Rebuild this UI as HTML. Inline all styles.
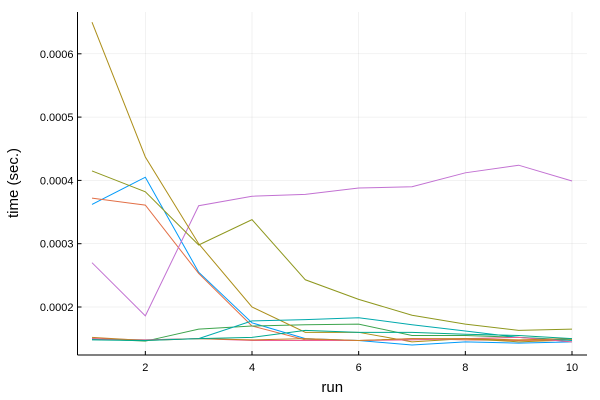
<!DOCTYPE html>
<html><head><meta charset="utf-8"><style>
body{margin:0;background:#fff;}
svg{display:block;font-family:"Liberation Sans","DejaVu Sans",sans-serif;}
</style></head><body>
<svg id="chart" width="600" height="400" viewBox="0 0 600 400"></svg>
<script>
const runs=[1,2,3,4,5,6,7,8,9,10];
const s1=[0.000362,0.000405,0.000255,0.000175,0.000150,0.000147,0.000140,0.000145,0.000143,0.000145];
const s2=[0.000372,0.000361,0.000253,0.000170,0.000148,0.000147,0.000150,0.000148,0.000147,0.000148];
const s3=[0.000150,0.000146,0.000165,0.000170,0.000172,0.000173,0.000155,0.000155,0.000152,0.000148];
const s4=[0.000270,0.000186,0.000360,0.000375,0.000378,0.000388,0.000390,0.000412,0.000424,0.000399];
const s5=[0.000650,0.000437,0.000300,0.000200,0.000160,0.000160,0.000145,0.000150,0.000145,0.000148];
const s6=[0.000149,0.000148,0.000150,0.000178,0.000180,0.000183,0.000172,0.000162,0.000152,0.000147];
const s7=[0.000150,0.000148,0.000150,0.000147,0.000147,0.000147,0.000148,0.000150,0.000152,0.000145];
const s8=[0.000152,0.000147,0.000150,0.000148,0.000150,0.000147,0.000150,0.000150,0.000148,0.000150];
const s9=[0.000148,0.000147,0.000150,0.000152,0.000163,0.000160,0.000160,0.000157,0.000155,0.000150];
const s10=[0.000415,0.000382,0.000298,0.000338,0.000243,0.000212,0.000187,0.000173,0.000163,0.000165];
const seriesList=[s1,s2,s3,s4,s5,s6,s7,s8,s9,s10];
const colors=["#009af9","#e26f46","#3da44d","#c271d2","#ac8e18","#00a9ad","#ed5e93","#c68225","#00a98d","#8e971d"];
const xTicks=[2,4,6,8,10];
const yTicks=[0.0002,0.0003,0.0004,0.0005,0.0006];
const yTickLabels=["0.0002","0.0003","0.0004","0.0005","0.0006"];

const NS="http://www.w3.org/2000/svg";
const svg=document.getElementById("chart");
const L=77.5,R=587,T=12,B=355;
function X(v){return 92+(v-1)*(572-92)/9;}
function Y(v){return 307-(v-0.0002)/0.0001*63.3;}
function mk(tag,attrs,parent){const e=document.createElementNS(NS,tag);for(const k in attrs)e.setAttribute(k,attrs[k]);(parent||svg).appendChild(e);return e;}

const grid=mk("g",{});


xTicks.forEach(t=>{mk("line",{x1:X(t),x2:X(t),y1:T,y2:B,stroke:"#000","stroke-opacity":0.1,"stroke-width":0.5},grid);});
yTicks.forEach(t=>{mk("line",{x1:L,x2:R,y1:Y(t),y2:Y(t),stroke:"#000","stroke-opacity":0.1,"stroke-width":0.5},grid);});

const lines=mk("g",{});


seriesList.forEach((s,i)=>{
  const p=mk("polyline",{points:s.map((v,j)=>X(runs[j])+","+Y(v)).join(" "),fill:"none",stroke:colors[i],"stroke-width":1},lines);
  
  
});

const ax=mk("g",{});


mk("line",{x1:L,x2:L,y1:T,y2:B,stroke:"#000","stroke-width":1},ax);
mk("line",{x1:L,x2:R,y1:B,y2:B,stroke:"#000","stroke-width":1},ax);
xTicks.forEach(t=>{
  mk("line",{x1:X(t),x2:X(t),y1:B,y2:B-4,stroke:"#000"},ax);
  const tx=mk("text",{x:X(t),y:B+16,"text-anchor":"middle","font-size":11,fill:"#000"},ax);
  tx.textContent=t;
  
  
});
yTicks.forEach((t,i)=>{
  mk("line",{x1:L,x2:L+4,y1:Y(t),y2:Y(t),stroke:"#000"},ax);
  const tx=mk("text",{x:L-4,y:Y(t)+4,"text-anchor":"end","font-size":11,fill:"#000"},ax);
  tx.textContent=yTickLabels[i];
  
  
});
const xt=mk("text",{x:(L+R)/2,y:392,"text-anchor":"middle","font-size":15,fill:"#000"});
xt.textContent="run";


const yt=mk("text",{x:0,y:0,"text-anchor":"middle","font-size":15,fill:"#000",transform:"translate(18,183) rotate(-90)"});
yt.textContent="time (sec.)";


</script>
</body></html>
